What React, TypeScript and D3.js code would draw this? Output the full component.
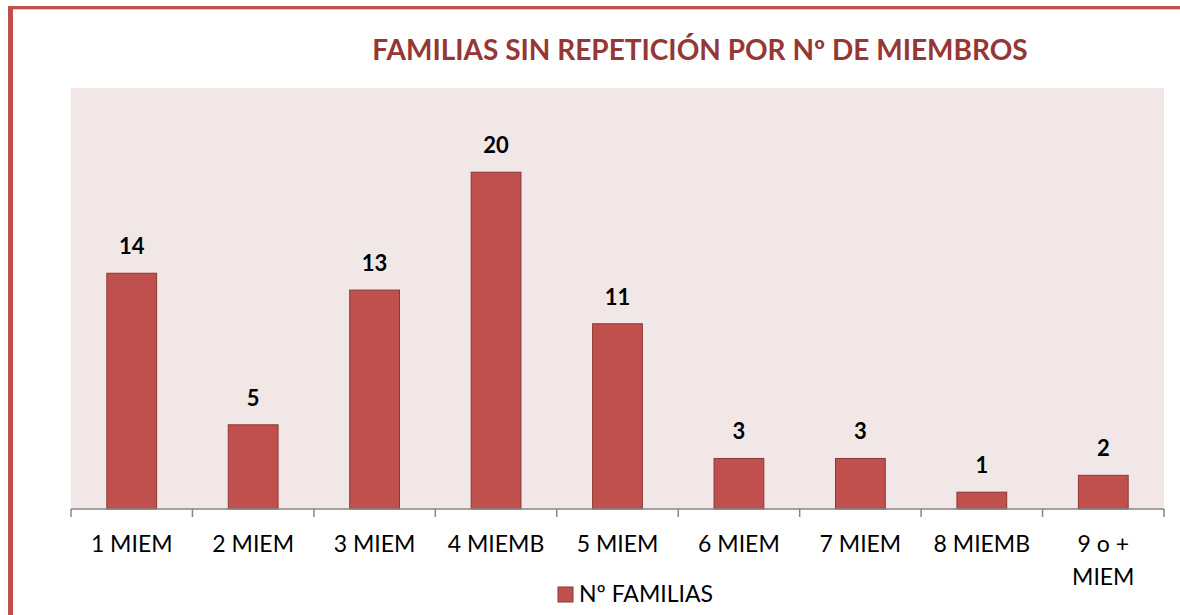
import * as d3 from "d3";
import React, { useEffect, useRef } from "react";

const categories: string[] = [
  "1 MIEM",
  "2 MIEM",
  "3 MIEM",
  "4 MIEMB",
  "5 MIEM",
  "6 MIEM",
  "7 MIEM",
  "8 MIEMB",
  "9 o + MIEM",
];
const families: number[] = [14, 5, 13, 20, 11, 3, 3, 1, 2];
const seriesName = "Nº FAMILIAS";
const chartTitle = "FAMILIAS SIN REPETICIÓN POR Nº DE MIEMBROS";

const W = 1180;
const H = 615;

const FamiliesChart: React.FC = () => {
  const ref = useRef<SVGSVGElement>(null);

  useEffect(() => {
    if (!ref.current) return;
    const svg = d3.select(ref.current);
    svg.selectAll("*").remove();

    const font = "Lato, 'Open Sans', sans-serif";
    const margin = { top: 88, right: 16, bottom: 106, left: 71 };
    const width = W - margin.left - margin.right;
    const height = H - margin.top - margin.bottom;

    // frame (left + top red border)
    svg.append("rect").attr("x", 8).attr("y", 6).attr("width", W - 8).attr("height", 3).attr("fill", "#c0504d");
    svg.append("rect").attr("x", 13).attr("y", 9).attr("width", W - 13).attr("height", 1).attr("fill", "#f4c2bb");
    svg.append("rect").attr("x", 8).attr("y", 6).attr("width", 5).attr("height", H - 6).attr("fill", "#c0504d");

    svg
      .append("text")
      .attr("x", 700)
      .attr("y", 60)
      .attr("text-anchor", "middle")
      .style("font-family", font)
      .style("font-weight", "bold")
      .style("font-size", "28px")
      .style("fill", "#953735")
      .text(chartTitle);

    const g = svg.append("g").attr("transform", `translate(${margin.left},${margin.top})`);

    g.append("rect").attr("width", width).attr("height", height).attr("fill", "#f2e7e7");

    const x = d3.scaleBand().domain(categories).range([0, width]).paddingInner(0.59).paddingOuter(0.295);
    const y = d3.scaleLinear().domain([0, 25]).range([height, 0]);

    const data = categories.map((c, i) => ({ cat: c, val: families[i] }));

    g.selectAll("rect.bar")
      .data(data)
      .enter()
      .append("rect")
      .attr("class", "bar")
      .attr("x", (d) => x(d.cat)!)
      .attr("y", (d) => y(d.val))
      .attr("width", x.bandwidth())
      .attr("height", (d) => height - y(d.val))
      .attr("fill", "#c0504d")
      .attr("stroke", "#8c3836")
      .attr("stroke-width", 1);

    g.selectAll("text.val")
      .data(data)
      .enter()
      .append("text")
      .attr("class", "val")
      .attr("x", (d) => x(d.cat)! + x.bandwidth() / 2)
      .attr("y", (d) => y(d.val) - 19)
      .attr("text-anchor", "middle")
      .style("font-family", font)
      .style("font-weight", "bold")
      .style("font-size", "22px")
      .style("fill", "#000")
      .text((d) => d.val);

    // x axis with ticks between categories
    const axis = g.append("g").attr("transform", `translate(0,${height})`);
    axis.append("line").attr("x1", 0).attr("x2", width).attr("stroke", "#868686").attr("stroke-width", 1.5);
    const step = x.step();
    d3.range(categories.length + 1).forEach((i) => {
      axis
        .append("line")
        .attr("x1", i * step)
        .attr("x2", i * step)
        .attr("y1", 0)
        .attr("y2", 8)
        .attr("stroke", "#868686")
        .attr("stroke-width", 1.5);
    });

    categories.forEach((c) => {
      const cx = x(c)! + x.bandwidth() / 2;
      const lines = c === "9 o + MIEM" ? ["9 o +", "MIEM"] : [c];
      const t = axis
        .append("text")
        .attr("x", cx)
        .attr("y", 43)
        .attr("text-anchor", "middle")
        .style("font-family", font)
        .style("font-size", "23px")
        .style("fill", "#000");
      lines.forEach((l, i) => {
        t.append("tspan").attr("x", cx).attr("dy", i === 0 ? 0 : 33).text(l);
      });
    });

    // legend
    const lg = svg.append("g").attr("transform", "translate(558,587)");
    lg.append("rect").attr("width", 15).attr("height", 15).attr("fill", "#c0504d").attr("stroke", "#8c3836");
    lg.append("text")
      .attr("x", 21)
      .attr("y", 15)
      .style("font-family", font)
      .style("font-size", "23px")
      .style("fill", "#000")
      .text(seriesName);
  }, []);

  return (
    <svg
      ref={ref}
      width={W}
      height={H}
      style={{ position: "absolute", left: 0, top: 0, background: "#fff" }}
    ></svg>
  );
};

export default function App() {
  return <FamiliesChart />;
}
